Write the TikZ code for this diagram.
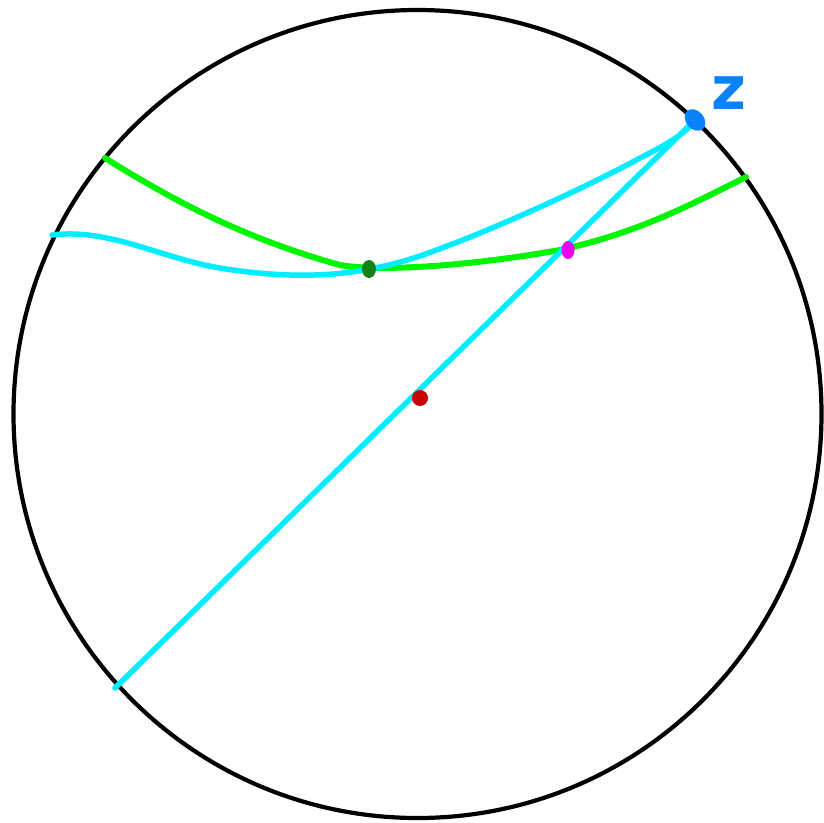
\documentclass[tikz,border=0pt]{standalone}
\usepackage{fontspec}
\setmainfont{DejaVu Sans}
\definecolor{cyanline}{RGB}{0,238,255}
\definecolor{greenline}{RGB}{0,245,0}
\definecolor{dkgreen}{RGB}{20,130,20}
\definecolor{magdot}{RGB}{240,0,240}
\definecolor{reddot}{RGB}{200,0,0}
\definecolor{zblue}{RGB}{10,130,250}
\tikzset{
  rim/.style={draw=black, line width=4.2pt},
  cyanstroke/.style={draw=cyanline, line width=5.5pt, line cap=round, line join=round},
  greenstroke/.style={draw=greenline, line width=6pt, line cap=round, line join=round},
  blob/.style={ellipse, inner sep=0pt, draw=none},
}
\usetikzlibrary{shapes.geometric}
\begin{document}
\begin{tikzpicture}[x=1pt,y=-1pt]
\useasboundingbox (0,0) rectangle (824,822);
\node[circle, rim, minimum size=808pt, inner sep=0pt] (disk) at (417.5,414) {};
% green curve
\coordinate (g0) at (105,158);
\coordinate (g1) at (746,177);
\draw[greenstroke] (g0) .. controls (180,205) and (250,240) .. (340,265)
  .. controls (380,272) and (470,266) .. (560,250)
  .. controls (640,232) and (690,205) .. (g1);
% cyan curve
\coordinate (c0) at (52,235);
\coordinate (zpt) at (697,118);
\draw[cyanstroke] (c0) .. controls (110,228) and (160,258) .. (220,268)
  .. controls (300,281) and (360,276) .. (420,256)
  .. controls (500,228) and (600,180) .. (640,158)
  .. controls (665,145) and (685,135) .. (zpt);
% cyan straight line
\coordinate (c2) at (115,688);
\draw[cyanstroke] (c2) -- (zpt);
% dots
\node[blob, fill=dkgreen, minimum width=14pt, minimum height=18pt] (gdot) at (369,269) {};
\node[blob, fill=magdot, minimum width=13pt, minimum height=18pt] (mdot) at (568,250) {};
\node[blob, fill=reddot, minimum width=16pt, minimum height=16pt, rotate=-20] (rdot) at (420,398) {};
\node[blob, fill=zblue, minimum width=18pt, minimum height=24pt, rotate=40] (zdot) at (695,120) {};
\node[text=zblue, font=\bfseries\fontsize{60}{60}\selectfont, inner sep=0pt] (zlab) at (729,93) {z};
\end{tikzpicture}
\end{document}
